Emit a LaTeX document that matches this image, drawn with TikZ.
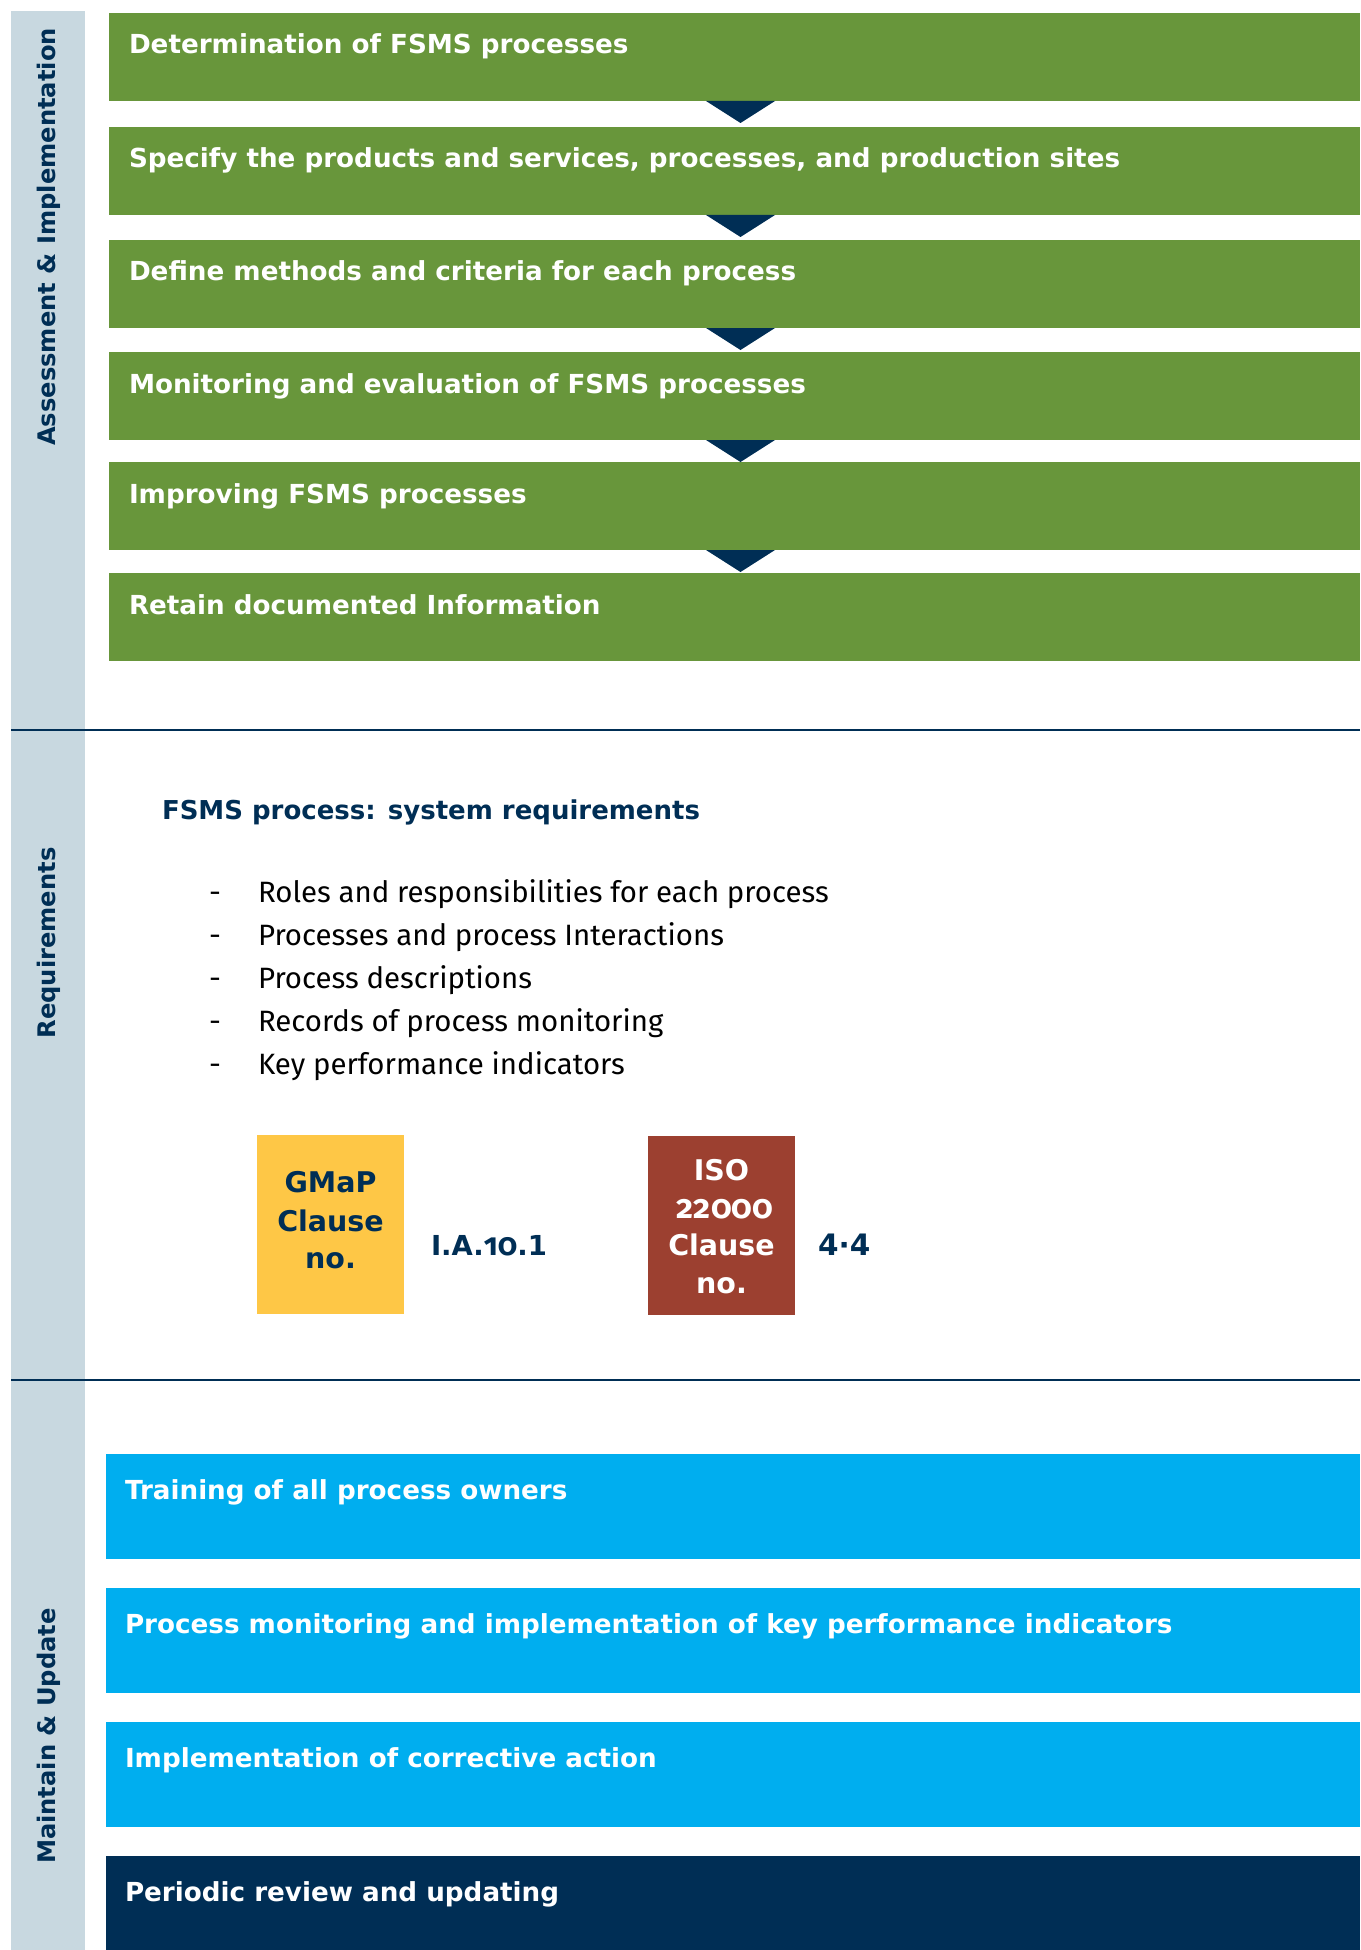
\documentclass[tikz,border=0pt]{standalone}
\usepackage{fontspec}
\setmainfont{Fira Sans}
\newfontfamily\sidefont{DejaVu Sans}
\newfontfamily\osf{Fira Sans}[Numbers=OldStyle]
\definecolor{fsgreen}{HTML}{68963B}
\definecolor{fsnavy}{HTML}{002E55}
\definecolor{fsside}{HTML}{C8D8E0}
\definecolor{fsyellow}{HTML}{FEC746}
\definecolor{fsrust}{HTML}{9C4030}
\definecolor{fsblue}{HTML}{00AEEF}
\begin{document}
\begin{tikzpicture}[x=1pt,y=-1pt,
  every node/.style={inner sep=0pt,outer sep=0pt},
  gbox/.style={fill=fsgreen,anchor=north west,minimum width=1251pt,minimum height=88pt},
  bbox/.style={fill=fsblue,anchor=north west,minimum width=1254pt,minimum height=105pt},
  title/.style={anchor=base west,text=white,font=\sidefont\bfseries\fontsize{26.2}{32}\selectfont},
  tri/.style={fill=fsnavy},
  rule/.style={draw=fsnavy,line width=2.2pt},
  sidelabel/.style={rotate=90,anchor=base,text=fsnavy,font=\sidefont\bfseries\fontsize{24.2}{30}\selectfont},
  bullet/.style={anchor=base west,text=black,font=\fontsize{29.4}{34}\selectfont},
  clausebox/.style={anchor=north west,minimum width=147pt,minimum height=179pt},
  gmaptext/.style={anchor=base,text=fsnavy,font=\sidefont\bfseries\fontsize{28.5}{34}\selectfont},
  isotext/.style={anchor=base,text=white,font=\sidefont\bfseries\fontsize{28.5}{34}\selectfont},
  clauseno/.style={anchor=base west,text=fsnavy,font=\sidefont\bfseries\fontsize{29.5}{34}\selectfont},
  osfnum/.style={font=\osf\bfseries\fontsize{33}{34}\selectfont}]
\useasboundingbox (0,0) rectangle (1360,1950);
% sidebar
\node[fill=fsside,anchor=north west,minimum width=74pt,minimum height=1939pt] (side) at (11,11) {};
\node[sidelabel] (s1) at (55,237) {Assessment \& Implementation};
\node[sidelabel] (s2) at (55,943) {Requirements};
\node[sidelabel] (s3) at (55,1736) {Maintain \& Update};
% green process boxes
\node[gbox] (g1) at (109,13) {};
\node[gbox] (g2) at (109,127) {};
\node[gbox] (g3) at (109,240) {};
\node[gbox] (g4) at (109,352) {};
\node[gbox] (g5) at (109,462) {};
\node[gbox] (g6) at (109,573) {};
\node[title] (t1) at ([xshift=20pt,yshift=-41pt]g1.north west) {Determination of FSMS processes};
\node[title] (t2) at ([xshift=20pt,yshift=-41pt]g2.north west) {Specify the products and services, processes, and production sites};
\node[title] (t3) at ([xshift=20pt,yshift=-41pt]g3.north west) {Define methods and criteria for each process};
\node[title] (t4) at ([xshift=20pt,yshift=-41pt]g4.north west) {Monitoring and evaluation of FSMS processes};
\node[title] (t5) at ([xshift=20pt,yshift=-41pt]g5.north west) {Improving FSMS processes};
\node[title] (t6) at ([xshift=20pt,yshift=-41pt]g6.north west) {Retain documented Information};
\foreach \a in {g1,g2,g3,g4,g5}{
  \fill[tri] ([xshift=597pt]\a.south west) -- ++(69,0) -- ++(-34.5,22) -- cycle;
}
% rules
\coordinate (r1a) at (11,730);
\coordinate (r1b) at (1360,730);
\coordinate (r2a) at (11,1380);
\coordinate (r2b) at (1360,1380);
\draw[rule] (r1a) -- (r1b);
\draw[rule] (r2a) -- (r2b);
% requirements
\node[anchor=base west,text=fsnavy,font=\sidefont\bfseries\fontsize{26}{32}\selectfont] (head) at (162,819) {FSMS process: system requirements};
\foreach \t [count=\i from 0] in {Roles and responsibilities for each process,Processes and process Interactions,Process descriptions,Records of process monitoring,Key performance indicators}{
  \node[bullet] (d\i) at (209,902+43*\i) {-};
  \node[bullet] (b\i) at (258,902+43*\i) {\t};
}
% clause boxes
\node[clausebox,fill=fsyellow] (gmap) at (257,1135) {};
\node[gmaptext] (gm1) at (330.5,1192) {GMaP};
\node[gmaptext] (gm2) at (330.5,1231) {Clause};
\node[gmaptext] (gm3) at (330.5,1268) {no.};
\node[clauseno,font=\sidefont\bfseries\fontsize{27.5}{34}\selectfont] (gmno) at (431,1255) {I.A.{\osf\fontsize{31}{34}\selectfont 10}.1};
\node[clausebox,fill=fsrust] (iso) at (648,1136) {};
\node[isotext] (is1) at (721.5,1180) {ISO};
\node[isotext,osfnum] (is2) at (725,1218) {22000};
\node[isotext] (is3) at (721.5,1255) {Clause};
\node[isotext] (is4) at (721.5,1293) {no.};
\node[clauseno] (isono) at (818,1255) {4·4};
% blue boxes
\node[bbox] (u1) at (106,1454) {};
\node[bbox] (u2) at (106,1588) {};
\node[bbox] (u3) at (106,1722) {};
\node[bbox,fill=fsnavy,minimum height=94pt] (u4) at (106,1856) {};
\node[title] (ut1) at ([xshift=19pt,yshift=-45pt]u1.north west) {Training of all process owners};
\node[title] (ut2) at ([xshift=19pt,yshift=-45pt]u2.north west) {Process monitoring and implementation of key performance indicators};
\node[title] (ut3) at ([xshift=19pt,yshift=-45pt]u3.north west) {Implementation of corrective action};
\node[title] (ut4) at ([xshift=19pt,yshift=-45pt]u4.north west) {Periodic review and updating};
\end{tikzpicture}
\end{document}
